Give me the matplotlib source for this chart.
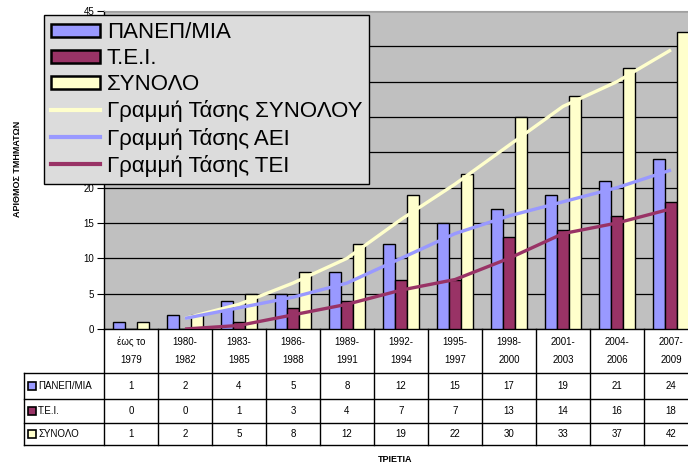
import pandas as pd
import matplotlib.pyplot as plt
import matplotlib.transforms as mtransforms
from matplotlib.patches import Patch
from matplotlib.lines import Line2D

plt.rcParams['font.family'] = ['Liberation Sans', 'DejaVu Sans']

periods = ['έως το\n1979', '1980-\n1982', '1983-\n1985', '1986-\n1988', '1989-\n1991', '1992-\n1994',
           '1995-\n1997', '1998-\n2000', '2001-\n2003', '2004-\n2006', '2007-\n2009']
panepistimia = [1, 2, 4, 5, 8, 12, 15, 17, 19, 21, 24]
tei = [0, 0, 1, 3, 4, 7, 7, 13, 14, 16, 18]
synolo = [1, 2, 5, 8, 12, 19, 22, 30, 33, 37, 42]

series_names = ['ΠΑΝΕΠ/ΜΙΑ', 'Τ.Ε.Ι.', 'ΣΥΝΟΛΟ']
trend_names = ['Γραμμή Τάσης ΣΥΝΟΛΟΥ', 'Γραμμή Τάσης ΑΕΙ', 'Γραμμή Τάσης ΤΕΙ']
colors = ['#9999FF', '#993366', '#FFFFCC']

df = pd.DataFrame({'aei': panepistimia, 'tei': tei, 'total': synolo})
# Excel "moving average, period 2" trend lines
trend = df.rolling(2).mean()

fig = plt.figure(figsize=(6.88, 4.66), dpi=100)
W, H = 688, 466
ax = fig.add_axes([104 / W, (H - 329) / H, 594 / W, 318 / H])
ax.set_facecolor('#C0C0C0')

x = list(range(len(periods)))
bw = 0.222
for k, (vals, c) in enumerate(zip([panepistimia, tei, synolo], colors)):
    ax.bar([i + (k - 1) * bw for i in x], vals, width=bw, color=c, edgecolor='black',
           linewidth=1, zorder=3)

for col, c in zip(['total', 'aei', 'tei'], ['#FFFFCC', '#9999FF', '#993366']):
    ax.plot(x, trend[col], color=c, linewidth=2.4, zorder=4, solid_capstyle='butt')

ax.set_xlim(-0.5, len(periods) - 0.5)
ax.set_ylim(0, 45)
ax.set_yticks(range(0, 46, 5))
ax.yaxis.grid(True, color='black', linewidth=0.9, zorder=1)
ax.set_axisbelow(True)
ax.set_xticks([])
ax.tick_params(axis='y', labelsize=7, length=5, width=0.8, color='black', pad=2)
for s in ['top', 'right']:
    ax.spines[s].set_color('#A0A0A0')
ax.spines['left'].set_linewidth(1)
ax.spines['bottom'].set_linewidth(1)

# data table under the chart
tr = mtransforms.blended_transform_factory(ax.transData, ax.transAxes)
def ya(ypix):
    return (329 - ypix) / 318

xl = (24 - 104) / 54 - 0.5
xr = len(periods) - 0.5 + 0.2
row_lines = [373, 399, 423, 445]
for yp in row_lines:
    ax.plot([xl, xr], [ya(yp)] * 2, color='black', lw=1, transform=tr, clip_on=False)
ax.plot([xl, xl], [ya(373), ya(445)], color='black', lw=1, transform=tr, clip_on=False)
for b in range(len(periods) + 1):
    ax.plot([b - 0.5] * 2, [0, ya(445)], color='black', lw=1, transform=tr, clip_on=False)

for i, p in enumerate(periods):
    ax.text(i, ya(351), p, ha='center', va='center', fontsize=7, linespacing=2.0,
            transform=tr, clip_on=False)

row_mid = [386, 411, 434]
for vals, name, c, ym in zip([panepistimia, tei, synolo], series_names, colors, row_mid):
    ax.plot([xl + 0.14], [ya(ym)], marker='s', markersize=6, markerfacecolor=c,
            markeredgecolor='black', markeredgewidth=1.2, transform=tr, clip_on=False)
    ax.text(xl + 0.26, ya(ym), name, ha='left', va='center', fontsize=7, transform=tr)
    for i, v in enumerate(vals):
        ax.text(i, ya(ym), str(v), ha='center', va='center', fontsize=7, transform=tr)

fig.text(18 / W, 1 - 169 / H, 'ΑΡΙΘΜΟΣ ΤΜΗΜΑΤΩΝ', rotation=90, ha='center', va='center',
         fontsize=6.5, fontweight='bold')
fig.text(395 / W, 1 - 460 / H, 'ΤΡΙΕΤΙΑ', ha='center', va='center', fontsize=6.5,
         fontweight='bold')

handles = [Patch(facecolor=c, edgecolor='black', linewidth=1.8) for c in colors]
handles += [Line2D([0], [0], color=c, linewidth=3) for c in ['#FFFFCC', '#9999FF', '#993366']]
leg = fig.legend(handles, series_names + trend_names, loc='upper left',
                 bbox_to_anchor=(44 / W, 1 - 15 / H), fontsize=16, frameon=True,
                 fancybox=False, framealpha=1, edgecolor='black', facecolor='#DCDCDC',
                 handlelength=2.2, handleheight=0.55, handletextpad=0.3,
                 labelspacing=0.23, borderpad=0.32, borderaxespad=0)
leg.get_frame().set_linewidth(1)

fig.savefig('out.png', dpi=100)
